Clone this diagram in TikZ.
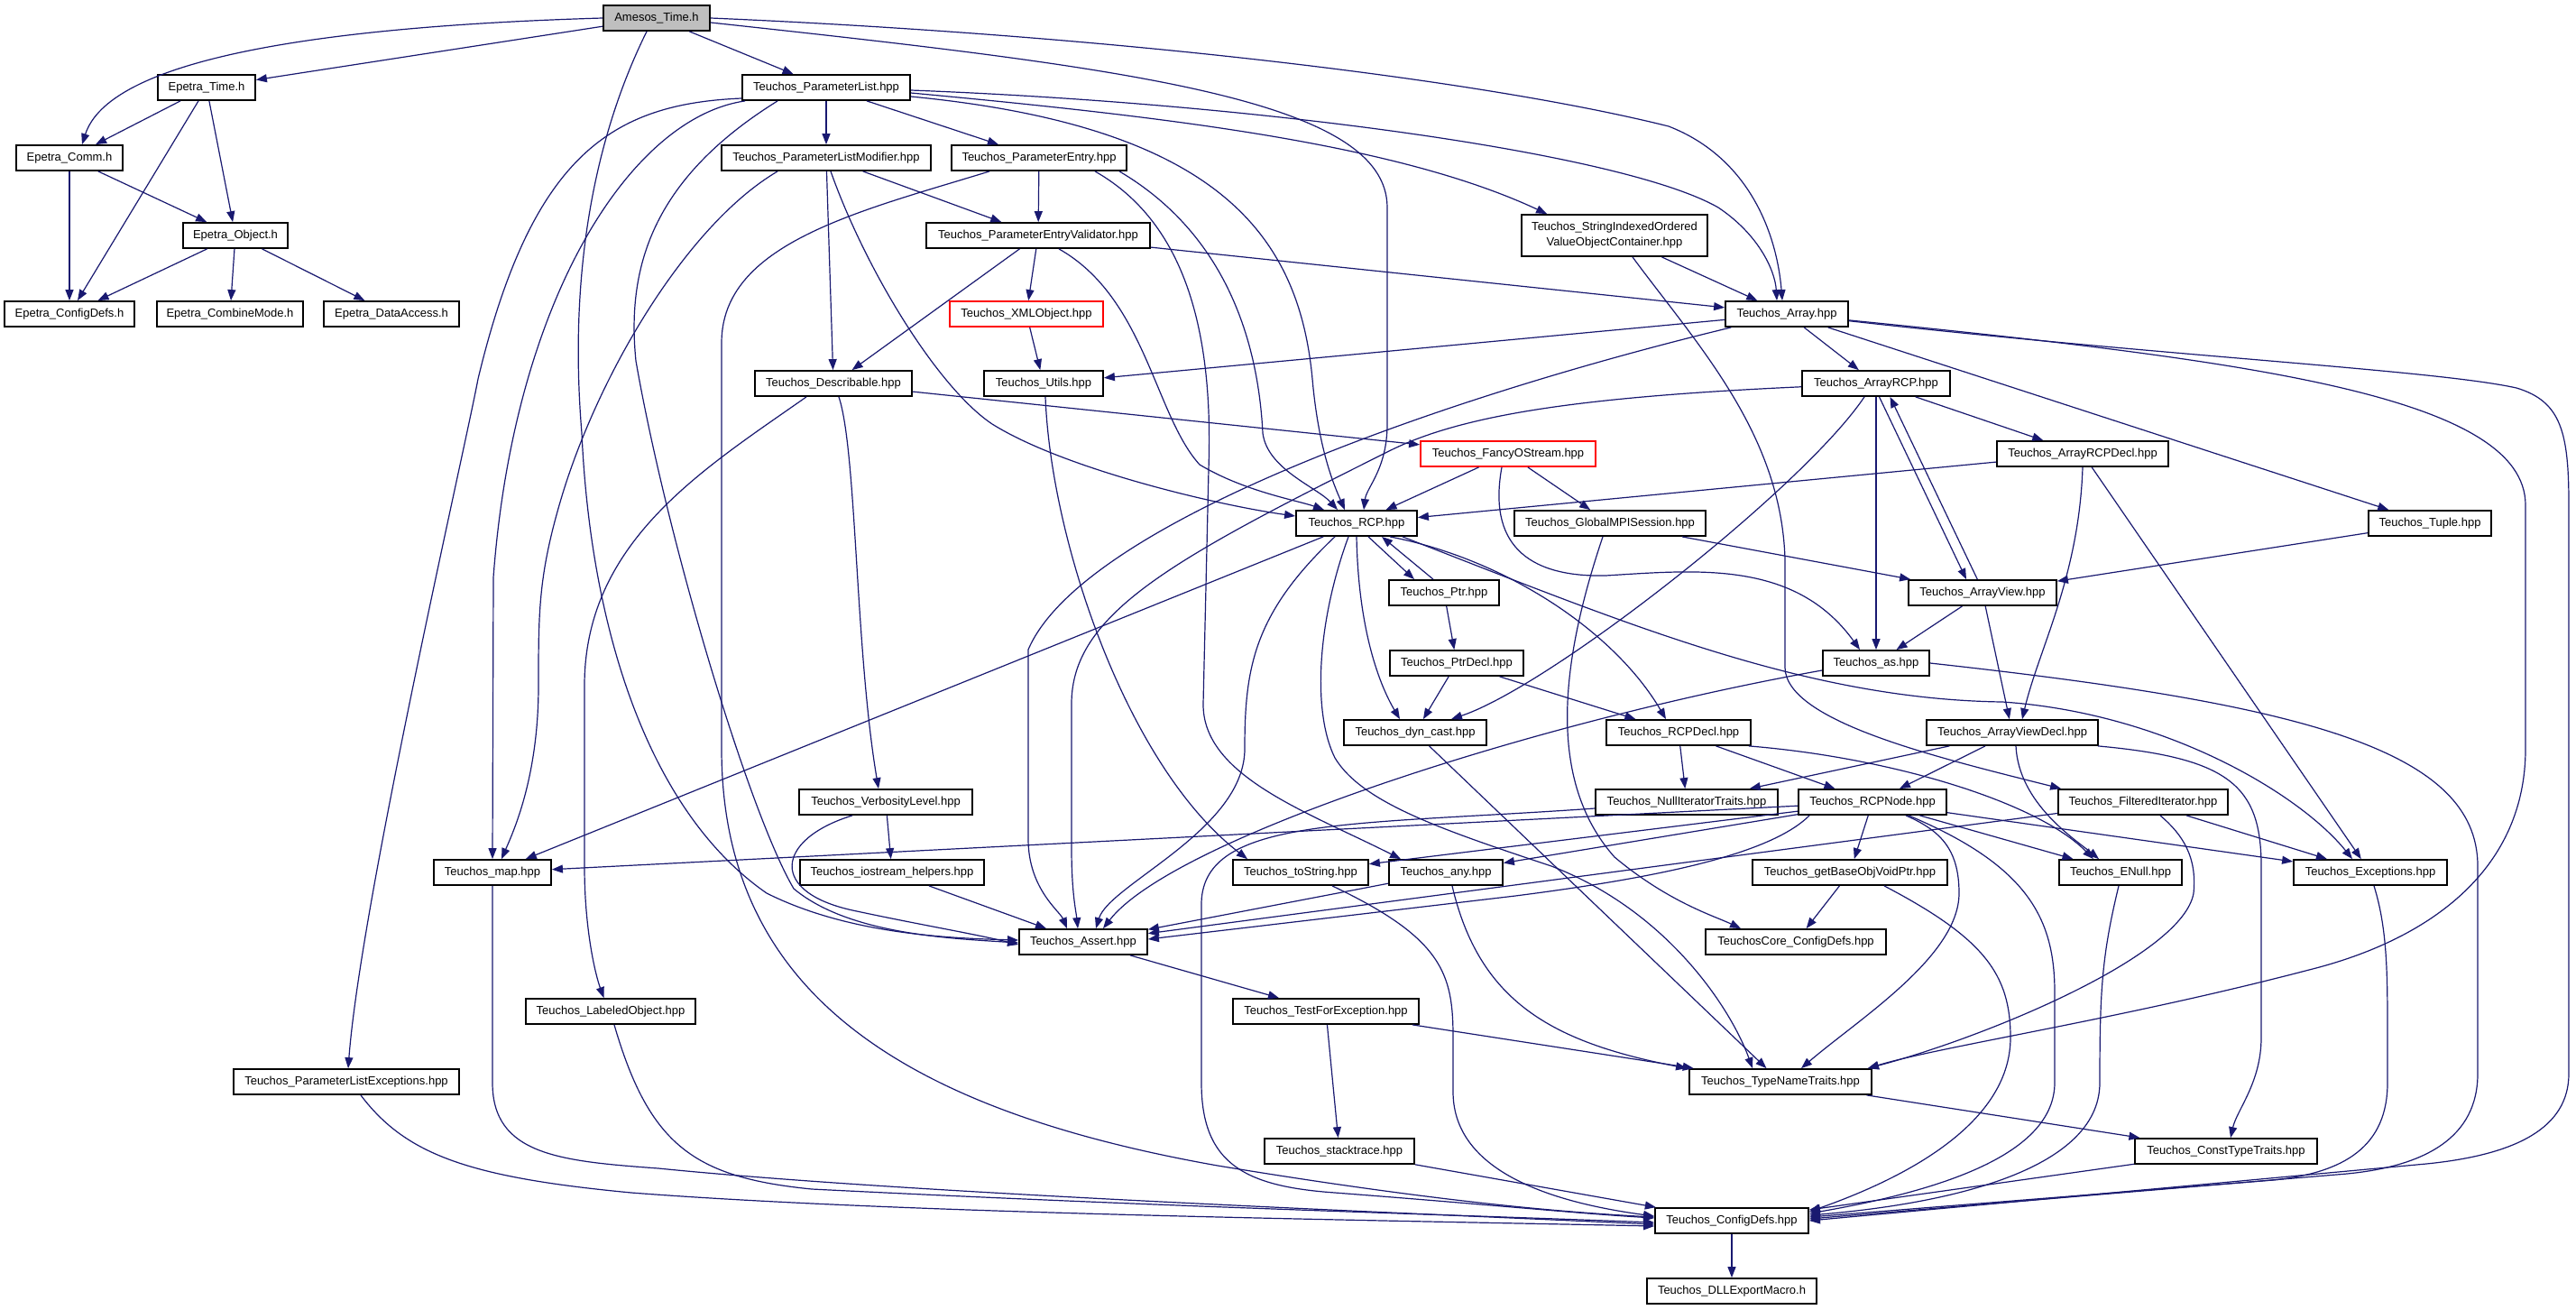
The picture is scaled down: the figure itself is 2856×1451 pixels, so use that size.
\documentclass[tikz,border=0pt]{standalone}
\usepackage{fontspec}
\setmainfont{Liberation Sans}
\usetikzlibrary{arrows.meta}
\definecolor{edgec}{RGB}{25,25,112}
\definecolor{amgray}{RGB}{191,191,191}
\definecolor{boxred}{RGB}{255,0,0}
\tikzset{
  nbox/.style={draw=black, line width=1.8pt, fill=white, rectangle, minimum height=28pt, inner sep=0pt, font=\fontsize{13}{17}\selectfont, text=black},
  lnk/.style={draw=edgec, line width=1.2pt, -{Triangle[length=12pt,width=9pt]}}
}
\begin{document}
\begin{tikzpicture}[x=1pt,y=-1pt]
\fill[white] (0,0) rectangle (2856,1451);
\useasboundingbox (0,0) rectangle (2856,1451);

% ---------------- nodes ----------------
\node[nbox, minimum width=118pt, fill=amgray] (am) at (728,20) {Amesos\_Time.h};
\node[nbox, minimum width=108pt] (et) at (229,97) {Epetra\_Time.h};
\node[nbox, minimum width=118pt] (ec) at (77,175) {Epetra\_Comm.h};
\node[nbox, minimum width=116pt] (eo) at (261,261) {Epetra\_Object.h};
\node[nbox, minimum width=144pt] (ecd) at (77,348) {Epetra\_ConfigDefs.h};
\node[nbox, minimum width=162pt] (ecm) at (255,348) {Epetra\_CombineMode.h};
\node[nbox, minimum width=150pt] (eda) at (434,348) {Epetra\_DataAccess.h};
\node[nbox, minimum width=186pt] (pl) at (916,97) {Teuchos\_ParameterList.hpp};
\node[nbox, minimum width=232pt] (plm) at (916,175) {Teuchos\_ParameterListModifier.hpp};
\node[nbox, minimum width=194pt] (pe) at (1152,175) {Teuchos\_ParameterEntry.hpp};
\node[nbox, minimum width=248pt] (pev) at (1151,261) {Teuchos\_ParameterEntryValidator.hpp};
\node[nbox, minimum width=206pt, minimum height=46pt, align=center] (sio) at (1790,261) {Teuchos\_StringIndexedOrdered\\ValueObjectContainer.hpp};
\node[nbox, draw=boxred, minimum width=170pt] (xml) at (1138,348) {Teuchos\_XMLObject.hpp};
\node[nbox, minimum width=136pt] (arr) at (1981,348) {Teuchos\_Array.hpp};
\node[nbox, minimum width=174pt] (desc) at (924,425) {Teuchos\_Describable.hpp};
\node[nbox, minimum width=132pt] (utl) at (1157,425) {Teuchos\_Utils.hpp};
\node[nbox, minimum width=164pt] (arcp) at (2080,425) {Teuchos\_ArrayRCP.hpp};
\node[nbox, draw=boxred, minimum width=194pt] (fos) at (1672,503) {Teuchos\_FancyOStream.hpp};
\node[nbox, minimum width=190pt] (arcpd) at (2309,503) {Teuchos\_ArrayRCPDecl.hpp};
\node[nbox, minimum width=134pt] (rcp) at (1504,580) {Teuchos\_RCP.hpp};
\node[nbox, minimum width=212pt] (gmpi) at (1785,580) {Teuchos\_GlobalMPISession.hpp};
\node[nbox, minimum width=136pt] (tup) at (2694,580) {Teuchos\_Tuple.hpp};
\node[nbox, minimum width=122pt] (ptr) at (1601,657) {Teuchos\_Ptr.hpp};
\node[nbox, minimum width=164pt] (av) at (2198,657) {Teuchos\_ArrayView.hpp};
\node[nbox, minimum width=148pt] (ptrd) at (1615,735) {Teuchos\_PtrDecl.hpp};
\node[nbox, minimum width=118pt] (tas) at (2080,735) {Teuchos\_as.hpp};
\node[nbox, minimum width=158pt] (dyn) at (1569,812) {Teuchos\_dyn\_cast.hpp};
\node[nbox, minimum width=160pt] (rcpd) at (1861,812) {Teuchos\_RCPDecl.hpp};
\node[nbox, minimum width=190pt] (avd) at (2231,812) {Teuchos\_ArrayViewDecl.hpp};
\node[nbox, minimum width=192pt] (verb) at (982,889) {Teuchos\_VerbosityLevel.hpp};
\node[nbox, minimum width=202pt] (nit) at (1870,889) {Teuchos\_NullIteratorTraits.hpp};
\node[nbox, minimum width=164pt] (rnode) at (2076,889) {Teuchos\_RCPNode.hpp};
\node[nbox, minimum width=188pt] (fit) at (2376,889) {Teuchos\_FilteredIterator.hpp};
\node[nbox, minimum width=130pt] (map) at (546,967) {Teuchos\_map.hpp};
\node[nbox, minimum width=204pt] (ios) at (989,967) {Teuchos\_iostream\_helpers.hpp};
\node[nbox, minimum width=150pt] (tos) at (1442,967) {Teuchos\_toString.hpp};
\node[nbox, minimum width=126pt] (any) at (1603,967) {Teuchos\_any.hpp};
\node[nbox, minimum width=216pt] (gbo) at (2051,967) {Teuchos\_getBaseObjVoidPtr.hpp};
\node[nbox, minimum width=136pt] (enull) at (2351,967) {Teuchos\_ENull.hpp};
\node[nbox, minimum width=170pt] (exc) at (2628,967) {Teuchos\_Exceptions.hpp};
\node[nbox, minimum width=142pt] (ast) at (1201,1044) {Teuchos\_Assert.hpp};
\node[nbox, minimum width=200pt] (tcc) at (1991,1044) {TeuchosCore\_ConfigDefs.hpp};
\node[nbox, minimum width=188pt] (lab) at (677,1121) {Teuchos\_LabeledObject.hpp};
\node[nbox, minimum width=206pt] (tfe) at (1470,1121) {Teuchos\_TestForException.hpp};
\node[nbox, minimum width=250pt] (plx) at (384,1199) {Teuchos\_ParameterListExceptions.hpp};
\node[nbox, minimum width=202pt] (tnt) at (1974,1199) {Teuchos\_TypeNameTraits.hpp};
\node[nbox, minimum width=166pt] (st) at (1485,1276) {Teuchos\_stacktrace.hpp};
\node[nbox, minimum width=202pt] (ctt) at (2468,1276) {Teuchos\_ConstTypeTraits.hpp};
\node[nbox, minimum width=170pt] (cd) at (1920,1353) {Teuchos\_ConfigDefs.hpp};
\node[nbox, minimum width=188pt] (dll) at (1920,1431) {Teuchos\_DLLExportMacro.h};

% ---------------- edges ----------------
% Amesos and Epetra
\draw[lnk] (am.west) .. controls (330,30) and (120,70) .. ([xshift=14pt]ec.north);
\draw[lnk] (am) -- (et);
\draw[lnk] (et) -- (ec);
\draw[lnk] (et) -- (ecd);
\draw[lnk] (et) -- (eo);
\draw[lnk] (ec) -- (ecd);
\draw[lnk] (ec) -- (eo);
\draw[lnk] (eo) -- (ecd);
\draw[lnk] (eo) -- (ecm);
\draw[lnk] (eo) -- (eda);
\draw[lnk] (am) -- (pl);
\draw[lnk] ([xshift=-11pt]am.south) .. controls (660,150) and (630,300) .. (645,480) .. controls (655,700) and (720,900) .. (850,990) .. controls (940,1035) and (1050,1040) .. ([yshift=2pt]ast.west);
\draw[lnk] (am.east) .. controls (1250,40) and (1650,90) .. (1850,140) .. controls (1940,175) and (1970,260) .. ([xshift=-5pt]arr.north);
\draw[lnk] ([yshift=-5pt]am.east) .. controls (1250,75) and (1538,110) .. (1538,230) -- (1538,470) .. controls (1538,520) and (1515,540) .. ([xshift=8pt]rcp.north);

% ParameterList
\draw[lnk] (pl) -- (plm);
\draw[lnk] (pl) -- (pe);
\draw[lnk] ([yshift=-12pt]pl.west) .. controls (680,115) and (590,170) .. (530,420) .. controls (515,500) and (400,1000) .. ([xshift=2pt]plx.north);
\draw[lnk] ([xshift=4pt]pl.south west) .. controls (700,130) and (570,330) .. (547,640) -- (map.north);
\draw[lnk] ([xshift=40pt]pl.south west) .. controls (720,200) and (695,300) .. (705,400) .. controls (740,600) and (830,900) .. (880,985) .. controls (940,1035) and (1050,1040) .. ([yshift=-1pt]ast.west);
\draw[lnk] ([yshift=-10pt]pl.east) .. controls (1350,140) and (1440,260) .. (1455,420) .. controls (1462,500) and (1480,540) .. ([xshift=-13pt]rcp.north);
\draw[lnk] ([yshift=-6pt]pl.east) .. controls (1300,130) and (1550,160) .. ([xshift=29pt]sio.north west);
\draw[lnk] ([yshift=-3pt]pl.east) .. controls (1400,115) and (1800,170) .. (1905,230) .. controls (1950,260) and (1968,300) .. ([xshift=-11pt]arr.north);

% ParameterListModifier
\draw[lnk] (plm) -- (pev);
\draw[lnk] (plm) -- (desc);
\draw[lnk] ([xshift=63pt]plm.south west) .. controls (760,250) and (660,420) .. (620,560) .. controls (597,640) and (597,680) .. (597,760) .. controls (597,860) and (570,920) .. ([xshift=10pt]map.north);
\draw[lnk] ([xshift=5pt]plm.south) .. controls (960,300) and (1040,430) .. (1100,470) .. controls (1180,520) and (1350,560) .. ([yshift=8pt]rcp.west);

% ParameterEntry
\draw[lnk] (pe) -- (pev);
\draw[lnk] ([xshift=43pt]pe.south west) .. controls (950,235) and (800,270) .. (800,380) -- (800,830) .. controls (800,1100) and (1000,1230) .. (1350,1292) .. controls (1550,1325) and (1700,1342) .. ([yshift=4pt]cd.west);
\draw[lnk] ([xshift=62pt]pe.south) .. controls (1320,250) and (1345,380) .. (1340,520) -- (1334,780) .. controls (1333,860) and (1450,900) .. ([xshift=-50pt]any.north);
\draw[lnk] ([xshift=89pt]pe.south) .. controls (1360,260) and (1395,380) .. (1400,480) .. controls (1405,520) and (1460,540) .. ([xshift=-21pt]rcp.north);

% ParameterEntryValidator
\draw[lnk] (pev) -- (xml);
\draw[lnk] (pev) -- (desc);
\draw[lnk] (pev) -- (arr);
\draw[lnk] ([xshift=23pt]pev.south) .. controls (1270,330) and (1280,460) .. (1330,515) .. controls (1380,545) and (1440,555) .. ([xshift=-36pt]rcp.north);

% StringIndexedOrderedValueObjectContainer
\draw[lnk] (sio) -- (arr);
\draw[lnk] ([xshift=20pt]sio.south) .. controls (1880,380) and (1975,480) .. (1979,620) -- (1979,740) .. controls (1980,800) and (2150,840) .. ([xshift=4pt]fit.north west);

% Describable
\draw[lnk] (desc) -- (fos);
\draw[lnk] ([xshift=6pt]desc.south) .. controls (950,500) and (948,720) .. ([xshift=-8pt]verb.north);
\draw[lnk] ([xshift=-30pt]desc.south) .. controls (780,520) and (648,600) .. (648,760) -- (648,960) .. controls (648,1030) and (660,1080) .. ([xshift=-7.5pt]lab.north);

% XMLObject, Utils
\draw[lnk] (xml) -- (utl);
\draw[lnk] ([xshift=2pt]utl.south) .. controls (1165,600) and (1250,850) .. ([xshift=-59pt]tos.north);

% Array
\draw[lnk] (arr) -- (utl);
\draw[lnk] (arr) -- (arcp);
\draw[lnk] (arr) -- (tup);
\draw[lnk] (arr) .. controls (1600,440) and (1200,580) .. (1140,720) -- (1140,930) .. controls (1140,985) and (1175,1010) .. ([xshift=-18pt]ast.north);
\draw[lnk] (arr) .. controls (2500,400) and (2800,440) .. (2800,560) -- (2800,830) .. controls (2800,960) and (2700,1040) .. (2560,1075) .. controls (2350,1130) and (2150,1160) .. ([xshift=-5pt]tnt.north east);
\draw[lnk] (arr) .. controls (2400,395) and (2700,410) .. (2790,430) .. controls (2840,445) and (2848,480) .. (2848,560) -- (2848,1190) .. controls (2848,1250) and (2790,1280) .. (2690,1290) -- (cd.east);

% ArrayRCP
\draw[lnk] (arcp) .. controls (1750,440) and (1620,460) .. (1540,500) .. controls (1300,620) and (1188,680) .. (1188,780) -- (1188,940) .. controls (1188,990) and (1193,1010) .. ([xshift=-6pt]ast.north);
\draw[lnk] (arcp) -- (tas);
\draw[lnk] ([xshift=3.5pt]arcp.south) -- ([xshift=-18pt]av.north);
\draw[lnk] ([xshift=-5.7pt]av.north) -- ([xshift=15.5pt]arcp.south);
\draw[lnk] (arcp) -- (arcpd);
\draw[lnk] ([xshift=-13pt]arcp.south) .. controls (2000,540) and (1720,760) .. ([xshift=40pt]dyn.north);

% ArrayRCPDecl, Tuple, ArrayView
\draw[lnk] (arcpd) -- (rcp);
\draw[lnk] (arcpd.south) .. controls (2305,640) and (2260,720) .. ([xshift=11pt]avd.north);
\draw[lnk] (arcpd) -- (exc);
\draw[lnk] (tup) -- (av);
\draw[lnk] (av) -- (tas);
\draw[lnk] (av) -- (avd);

% FancyOStream, GlobalMPISession
\draw[lnk] (fos) -- (rcp);
\draw[lnk] (fos) -- (gmpi);
\draw[lnk] ([xshift=-7pt]fos.south) .. controls (1650,600) and (1690,640) .. (1780,638) .. controls (1880,632) and (1990,620) .. ([xshift=-18pt]tas.north);
\draw[lnk] (gmpi) -- (av);
\draw[lnk] ([xshift=-8pt]gmpi.south) .. controls (1735,720) and (1710,860) .. (1790,950) .. controls (1850,1000) and (1900,1015) .. ([xshift=-61pt]tcc.north);

% RCP
\draw[lnk] ([xshift=13pt]rcp.south) -- ([xshift=-33pt]ptr.north);
\draw[lnk] ([xshift=-12pt]ptr.north) -- ([xshift=28pt]rcp.south);
\draw[lnk] (rcp.south) .. controls (1506,700) and (1530,760) .. ([xshift=-17pt]dyn.north);
\draw[lnk] ([xshift=37pt]rcp.south) .. controls (1670,620) and (1790,700) .. ([xshift=-14pt]rcpd.north);
\draw[lnk] ([xshift=-17pt]rcp.south east) .. controls (1800,690) and (2000,775) .. (2220,778) .. controls (2400,790) and (2550,880) .. ([xshift=-20pt]exc.north);
\draw[lnk] (rcp) -- (map);
\draw[lnk] ([xshift=-24pt]rcp.south) .. controls (1390,680) and (1380,740) .. (1380,830) .. controls (1380,920) and (1230,980) .. ([xshift=14pt]ast.north);
\draw[lnk] ([xshift=-9pt]rcp.south) .. controls (1460,690) and (1455,790) .. (1480,840) .. controls (1510,890) and (1600,920) .. (1720,960) .. controls (1850,1010) and (1920,1120) .. ([xshift=-31pt]tnt.north);

% Ptr, PtrDecl, dyn_cast
\draw[lnk] (ptr) -- (ptrd);
\draw[lnk] (ptrd) -- (dyn);
\draw[lnk] (ptrd) -- (rcpd);
\draw[lnk] (dyn) -- (tnt);

% RCPDecl
\draw[lnk] (rcpd) -- (nit);
\draw[lnk] (rcpd) -- (rnode);
\draw[lnk] ([xshift=78pt]rcpd.south) .. controls (2100,840) and (2260,890) .. ([xshift=-30pt]enull.north);

% ArrayViewDecl
\draw[lnk] (avd) -- (nit);
\draw[lnk] (avd) -- (rnode);
\draw[lnk] ([xshift=4pt]avd.south) .. controls (2238,890) and (2300,930) .. ([xshift=-24pt]enull.north);
\draw[lnk] ([xshift=95pt]avd.south) .. controls (2470,840) and (2507,870) .. (2507,960) -- (2507,1150) .. controls (2507,1200) and (2480,1230) .. ([xshift=5pt]ctt.north);

% RCPNode
\draw[lnk] (rnode) -- (map);
\draw[lnk] (rnode) -- (tos);
\draw[lnk] (rnode) -- (any);
\draw[lnk] ([xshift=-70pt]rnode.south) .. controls (1960,950) and (1820,975) .. (1680,993) -- ([yshift=3pt]ast.east);
\draw[lnk] (rnode) -- (gbo);
\draw[lnk] ([xshift=37pt]rnode.south) .. controls (2150,920) and (2172,940) .. (2172,990) .. controls (2172,1060) and (2060,1130) .. ([xshift=23pt]tnt.north);
\draw[lnk] ([xshift=40pt]rnode.south) .. controls (2250,960) and (2278,1020) .. (2278,1100) -- (2278,1200) .. controls (2278,1280) and (2150,1320) .. ([yshift=8pt]cd.east);
\draw[lnk] (rnode) -- (enull);
\draw[lnk] (rnode) -- (exc);

% FilteredIterator
\draw[lnk] (fit) -- (exc);
\draw[lnk] ([xshift=19pt]fit.south) .. controls (2420,925) and (2436,950) .. (2432,990) .. controls (2420,1060) and (2200,1150) .. ([xshift=-5pt]tnt.north east);
\draw[lnk] (fit) -- (ast);

% getBaseObjVoidPtr, ENull, Exceptions
\draw[lnk] (gbo) -- (tcc);
\draw[lnk] ([xshift=38pt]gbo.south) .. controls (2200,1040) and (2229,1080) .. (2229,1150) .. controls (2229,1250) and (2100,1310) .. ([yshift=10pt]cd.east);
\draw[lnk] ([xshift=-2pt]enull.south) .. controls (2330,1060) and (2328,1100) .. (2328,1200) .. controls (2328,1300) and (2150,1335) .. ([yshift=6pt]cd.east);
\draw[lnk] ([xshift=4pt]exc.south) .. controls (2647,1030) and (2647,1080) .. (2647,1150) -- (2647,1200) .. controls (2647,1270) and (2600,1300) .. (2520,1308) -- ([yshift=4pt]cd.east);

% Teuchos_as
\draw[lnk] ([yshift=-8pt]tas.west) .. controls (1700,800) and (1300,930) .. ([xshift=22pt]ast.north);
\draw[lnk] (tas.east) .. controls (2550,780) and (2747,830) .. (2747,960) -- (2747,1190) .. controls (2747,1260) and (2690,1295) .. (2590,1302) -- ([yshift=2pt]cd.east);

% TypeNameTraits, ConstTypeTraits, ConfigDefs
\draw[lnk] (tnt) -- (ctt);
\draw[lnk] (ctt) -- (cd);
\draw[lnk] (cd) -- (dll);

% VerbosityLevel, iostream_helpers
\draw[lnk] (verb) -- (ios);
\draw[lnk] ([xshift=-37pt]verb.south) .. controls (860,930) and (850,990) .. (950,1010) .. controls (1020,1025) and (1080,1035) .. ([yshift=-3pt]ast.west);
\draw[lnk] (ios) -- (ast);

% any, toString, NullIteratorTraits
\draw[lnk] (any) -- (ast);
\draw[lnk] ([xshift=7pt]any.south) .. controls (1640,1110) and (1720,1155) .. ([xshift=-2pt]tnt.north west);
\draw[lnk] ([xshift=35pt]tos.south) .. controls (1600,1040) and (1611,1080) .. (1611,1150) -- (1611,1210) .. controls (1611,1290) and (1700,1330) .. ([yshift=5pt]cd.west);
\draw[lnk] ([yshift=-7pt]nit.west) .. controls (1500,915) and (1335,905) .. (1332,1000) -- (1332,1200) .. controls (1332,1290) and (1380,1315) .. (1480,1322) .. controls (1650,1335) and (1750,1345) .. ([yshift=3pt]cd.west);

% Assert, TestForException, stacktrace
\draw[lnk] (ast) -- (tfe);
\draw[lnk] (tfe) -- (st);
\draw[lnk] (tfe) -- (tnt);
\draw[lnk] (st) -- (cd);

% LabeledObject, map, ParameterListExceptions
\draw[lnk] ([xshift=4pt]lab.south) .. controls (720,1270) and (770,1305) .. (900,1318) .. controls (1300,1338) and (1600,1346) .. ([yshift=-2pt]cd.west);
\draw[lnk] (map.south) -- (546,1200) .. controls (546,1280) and (620,1287) .. (730,1295) .. controls (1000,1322) and (1500,1342) .. ([yshift=-4pt]cd.west);
\draw[lnk] ([xshift=16pt]plx.south) .. controls (450,1280) and (520,1305) .. (700,1322) .. controls (1000,1345) and (1500,1352) .. ([yshift=-6pt]cd.west);

\end{tikzpicture}
\end{document}
